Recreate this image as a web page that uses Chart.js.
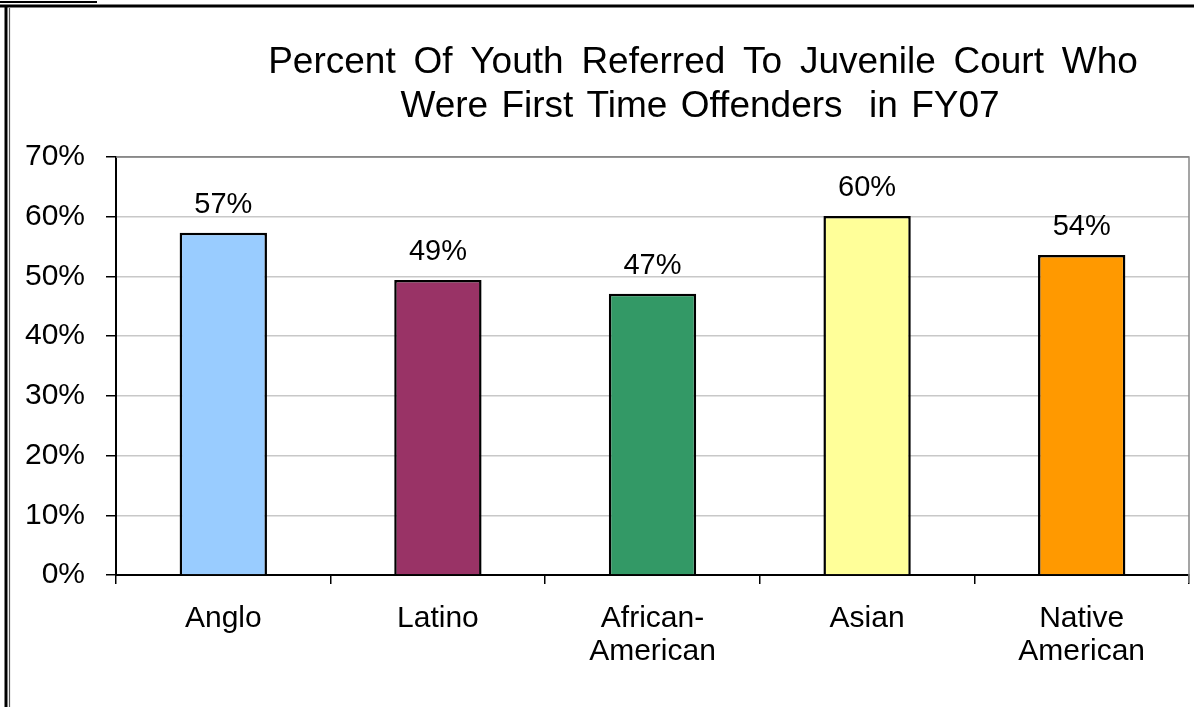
<!DOCTYPE html>
<html>
<head>
<meta charset="utf-8">
<title>First Time Offenders FY07</title>
<script src="https://cdn.jsdelivr.net/npm/chart.js@4/dist/chart.umd.min.js"></script>
<style>
    html, body { margin: 0; padding: 0; background: #fff; }
    #wrap { position: relative; width: 1194px; height: 707px; }
</style>
</head>
<body>
<div id="wrap"><canvas id="chart"></canvas></div>
<script>
// Share of referred youth who were first time offenders, by group
const categories = ['Anglo', 'Latino', ['African-', 'American'], 'Asian', ['Native', 'American']];
const firstTimeShare = [57.3, 49.4, 47.1, 60.1, 53.6];
const barColors = ['#99ccff', '#993366', '#339966', '#ffff99', '#ff9900'];
const titleLines = [
    'Percent Of Youth Referred To Juvenile Court Who',
    'Were First Time Offenders  in FY07',
];
const yMin = 0;
const yMax = 70;
const yStep = 10;

const FONT = "'Liberation Sans', Arial, sans-serif";

// Outer frame lines + plot border on top/right
const framePlugin = {
    id: 'frame',
    afterDraw(chart) {
        const { ctx, chartArea: a } = chart;
        ctx.save();
        ctx.strokeStyle = '#000';
        ctx.lineWidth = 3;
        ctx.beginPath();
        ctx.moveTo(0, 6); ctx.lineTo(chart.width, 6);
        ctx.moveTo(6, 6); ctx.lineTo(6, chart.height);
        ctx.stroke();
        ctx.lineWidth = 2;
        ctx.beginPath();
        ctx.moveTo(0, 2); ctx.lineTo(97, 2);
        ctx.stroke();
        ctx.strokeStyle = '#555';
        ctx.lineWidth = 1.2;
        ctx.beginPath();
        ctx.moveTo(9.5, 8); ctx.lineTo(9.5, chart.height);
        ctx.stroke();

        ctx.strokeStyle = '#888';
        ctx.lineWidth = 1.5;
        ctx.beginPath();
        ctx.moveTo(a.left, a.top); ctx.lineTo(a.right, a.top);
        ctx.lineTo(a.right, a.bottom + 8);
        ctx.stroke();
        ctx.restore();
    },
};

// Two-line title, set a bit right of the plot centre
const titlePlugin = {
    id: 'twoLineTitle',
    afterDraw(chart) {
        const { ctx } = chart;
        ctx.save();
        ctx.font = '37px ' + FONT;
        ctx.fillStyle = '#000';
        ctx.textAlign = 'center';
        ctx.textBaseline = 'alphabetic';
        const spacing = ['7.5px', '3px'];
        titleLines.forEach((line, i) => {
            if ('wordSpacing' in ctx) ctx.wordSpacing = spacing[i];
            ctx.fillText(line, i === 0 ? 703 : 700, 73 + i * 44);
        });
        ctx.restore();
    },
};

// Percent labels above each bar
const valueLabelPlugin = {
    id: 'valueLabels',
    afterDatasetsDraw(chart) {
        const { ctx } = chart;
        const meta = chart.getDatasetMeta(0);
        const data = chart.data.datasets[0].data;
        ctx.save();
        ctx.font = '29px ' + FONT;
        ctx.fillStyle = '#000';
        ctx.textAlign = 'center';
        ctx.textBaseline = 'alphabetic';
        meta.data.forEach((bar, i) => {
            ctx.fillText(Math.round(data[i]) + '%', bar.x, bar.y - 20);
        });
        ctx.restore();
    },
};

new Chart(document.getElementById('chart'), {
    type: 'bar',
    data: {
        labels: categories,
        datasets: [{
            data: firstTimeShare,
            backgroundColor: barColors,
            borderColor: '#000',
            borderWidth: 2.5,
            barPercentage: 0.407,
            categoryPercentage: 1,
        }],
    },
    options: {
        responsive: true,
        maintainAspectRatio: false,
        animation: false,
        layout: { padding: { top: 157, right: 5, bottom: 0, left: 0 } },
        plugins: {
            legend: { display: false },
            tooltip: { enabled: false },
            title: { display: false },
        },
        scales: {
            x: {
                z: 1,
                offset: true,
                border: { display: true, color: '#000', width: 2 },
                grid: {
                    drawOnChartArea: false,
                    drawTicks: true,
                    tickLength: 9,
                    tickColor: '#000',
                    lineWidth: 1.5,
                    offset: true,
                },
                ticks: {
                    color: '#000',
                    padding: 18,
                    maxRotation: 0,
                    font: { family: FONT, size: 30, lineHeight: 1.1 },
                },
                afterFit(scale) { scale.height = 132; },
            },
            y: {
                min: yMin,
                max: yMax,
                border: { display: true, color: '#000', width: 2 },
                grid: {
                    color: (c) => (c.tick && c.tick.value === yMax ? '#888' : '#c8c8c8'),
                    lineWidth: 1.5,
                    tickLength: 10,
                    tickColor: '#000',
                },
                ticks: {
                    stepSize: yStep,
                    color: '#000',
                    padding: 21,
                    font: { family: FONT, size: 30 },
                    callback: (v) => v + '%',
                },
                afterFit(scale) { scale.width = 116; },
            },
        },
    },
    plugins: [framePlugin, titlePlugin, valueLabelPlugin],
});
</script>
</body>
</html>
